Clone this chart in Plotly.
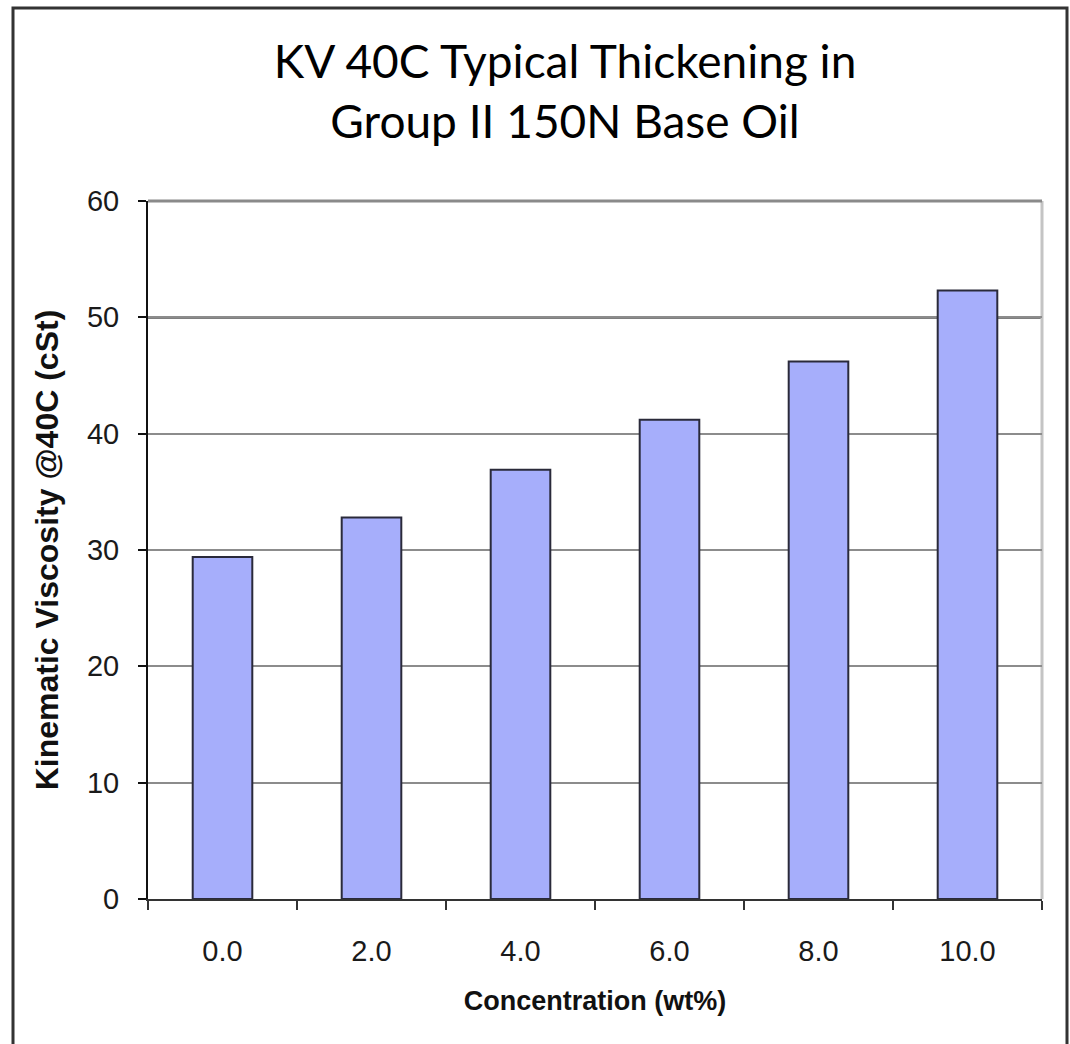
import plotly.graph_objects as go

categories = ["0.0", "2.0", "4.0", "6.0", "8.0", "10.0"]
viscosity = [29.4, 32.8, 36.9, 41.2, 46.2, 52.3]
y_ticks = [0, 10, 20, 30, 40, 50, 60]

W, H = 1070, 1044
L, R, T, B = 148, 1042, 201, 899

def px_x(px):
    return (px - L) / (R - L)

def px_y(py):
    return (B - py) / (B - T)

fig = go.Figure()
fig.add_trace(go.Bar(
    x=categories, y=viscosity,
    marker=dict(color="#a6aefb", line=dict(color="#2a2a3a", width=2)),
    width=0.4,
))

shapes = [
    # outer frame
    dict(type="rect", xref="paper", yref="paper",
         x0=px_x(13), x1=px_x(1067), y0=px_y(1060), y1=px_y(8),
         line=dict(color="#333333", width=3), layer="below"),
    # darker gridline at 50
    dict(type="line", xref="paper", yref="y", x0=0, x1=1, y0=50, y1=50,
         line=dict(color="#000000", width=2.5), layer="between"),
    # right plot border
    dict(type="line", xref="paper", yref="paper", x0=1, x1=1, y0=0, y1=1,
         line=dict(color="#c4c4c4", width=3), layer="between"),
    # top plot border
    dict(type="line", xref="paper", yref="paper", x0=0, x1=1, y0=1, y1=1,
         line=dict(color="#8a8a8a", width=3), layer="between"),
]

fig.update_layout(
    width=W, height=H,
    margin=dict(l=L, r=W - R, t=T, b=H - B),
    paper_bgcolor="white", plot_bgcolor="white",
    showlegend=False,
    shapes=shapes,
    title=dict(
        text="KV 40C Typical Thickening in<br>Group II 150N Base Oil",
        font=dict(family="Lato, sans-serif", size=46, color="#000000"),
        x=565 / W, xanchor="center", xref="container",
        y=1 - 78 / H, yanchor="middle",
    ),
)

fig.update_xaxes(
    type="category",
    tickson="boundaries", ticks="outside", ticklen=9, tickwidth=2, tickcolor="#333333",
    showline=True, linecolor="#333333", linewidth=2,
    showgrid=False,
    tickfont=dict(family="Liberation Sans, Arial, sans-serif", size=29, color="#1a1a1a"),
    ticklabelstandoff=25,
    title=dict(text="<b>Concentration (wt%)</b>",
               font=dict(family="Liberation Sans, Arial, sans-serif", size=27, color="#111111"),
               standoff=25),
)
fig.update_yaxes(
    range=[0, 60], tickvals=y_ticks,
    ticks="outside", ticklen=8, tickwidth=2, tickcolor="#111111",
    showline=True, linecolor="#111111", linewidth=2,
    showgrid=True, gridcolor="#8c8c8c", gridwidth=2,
    zeroline=False,
    tickfont=dict(family="Liberation Sans, Arial, sans-serif", size=29, color="#1a1a1a"),
    ticklabelstandoff=13,
    title=dict(text="<b>Kinematic Viscosity @40C (cSt)</b>",
               font=dict(family="Liberation Sans, Arial, sans-serif", size=32, color="#111111"),
               standoff=19),
)

fig.write_html("out.html")
